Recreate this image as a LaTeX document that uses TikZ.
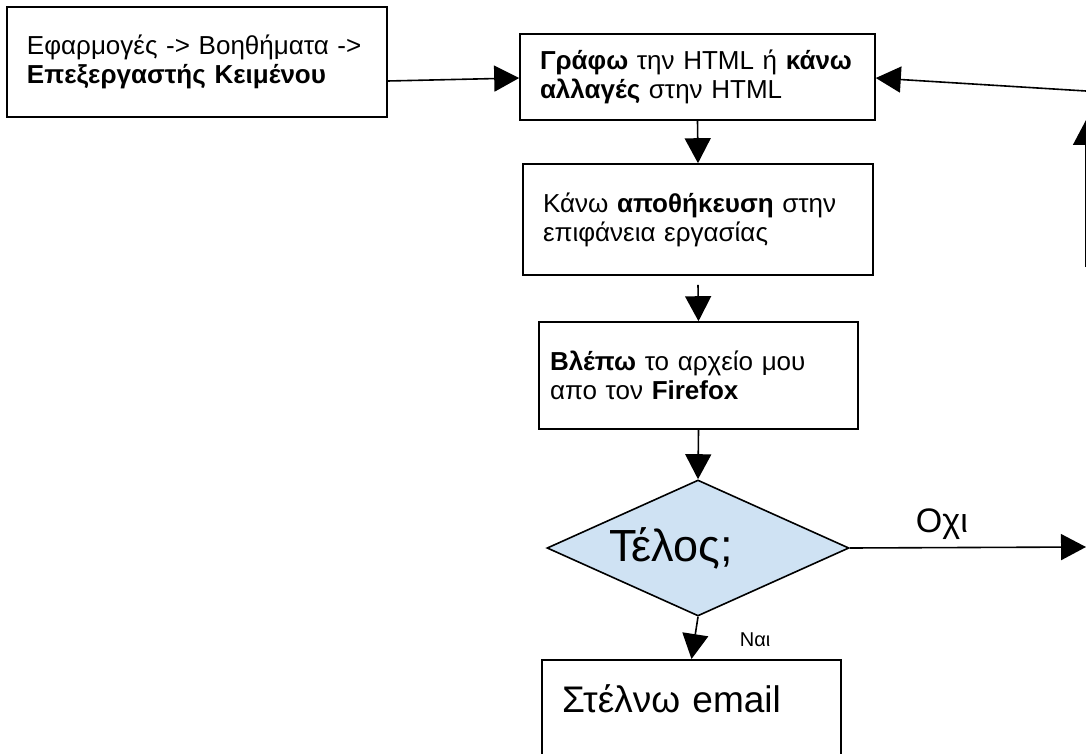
\documentclass[tikz,border=0pt]{standalone}
\usepackage{fontspec}
\setmainfont{Liberation Sans}
\usetikzlibrary{calc, positioning, shapes.geometric, arrows.meta}

\begin{document}
\begin{tikzpicture}[x=1pt, y=-1pt, >={Triangle[length=25pt,width=26pt]},
  box/.style={draw, line width=1.6pt, align=left, inner xsep=20pt, inner ysep=0pt,
    font=\fontsize{26}{29}\selectfont},
  flow/.style={->, line width=1.6pt}]
  \clip (0,0) rectangle (1086,754);
  \node[box, text width=340pt, minimum height=110pt] (apps) at (197,62)
    {Εφαρμογές -> Βοηθήματα ->\\\textbf{Επεξεργαστής Κειμένου}};
  \node[box, text width=315pt, minimum height=86pt] (write) at (697.5,77)
    {\textbf{Γράφω} την HTML ή \textbf{κάνω}\\\textbf{αλλαγές} στην HTML};
  \node[box, text width=310pt, minimum height=111pt] (save) at (698,219.5)
    {Κάνω \textbf{αποθήκευση} στην\\επιφάνεια εργασίας};
  \node[box, inner xsep=11pt, text width=297pt, minimum height=107pt] (view) at (698.5,375.5)
    {\textbf{Βλέπω} το αρχείο μου\\απο τον \textbf{Firefox}};
  \node[diamond, draw, line width=1.6pt, fill={rgb,255:red,207;green,226;blue,243},
    minimum width=302pt, minimum height=136pt, inner sep=0pt,
    label={[xshift=-27pt, font=\fontsize{45}{50}\selectfont]center:Τέλος;}] (done) at (698,548) {};
  \node[box, anchor=north, inner ysep=20pt, text width=259pt, text height=33pt, text depth=80pt,
    font=\fontsize{37}{42}\selectfont] (mail) at (691.5,659) {Στέλνω email};
  \coordinate (back) at (1086,91);
  \coordinate (upbot) at (1086,267);
  \coordinate (uptop) at (1086,120);
  \coordinate (no) at (1086,547);

  \draw[flow] ($(apps.east)+(0,19)$) -- ($(write.west)+(0,1)$);
  \draw[flow] (back) -- ($(write.east)+(0,1)$);
  \draw[flow] (upbot) -- (uptop);
  \draw[flow] (write.south) -- (save.north);
  \draw[flow] ($(save.south)+(0,9)$) -- (view.north);
  \draw[flow] (view.south) -- (done.north);
  \draw[flow] (done.east) -- node[above=4pt, xshift=-26pt, font=\fontsize{34}{38}\selectfont] {Οχι} (no);
  \draw[flow] (done.south) -- node[right=41pt, yshift=-2pt, font=\fontsize{20}{24}\selectfont] {Ναι} (mail.north);
\end{tikzpicture}
\end{document}
